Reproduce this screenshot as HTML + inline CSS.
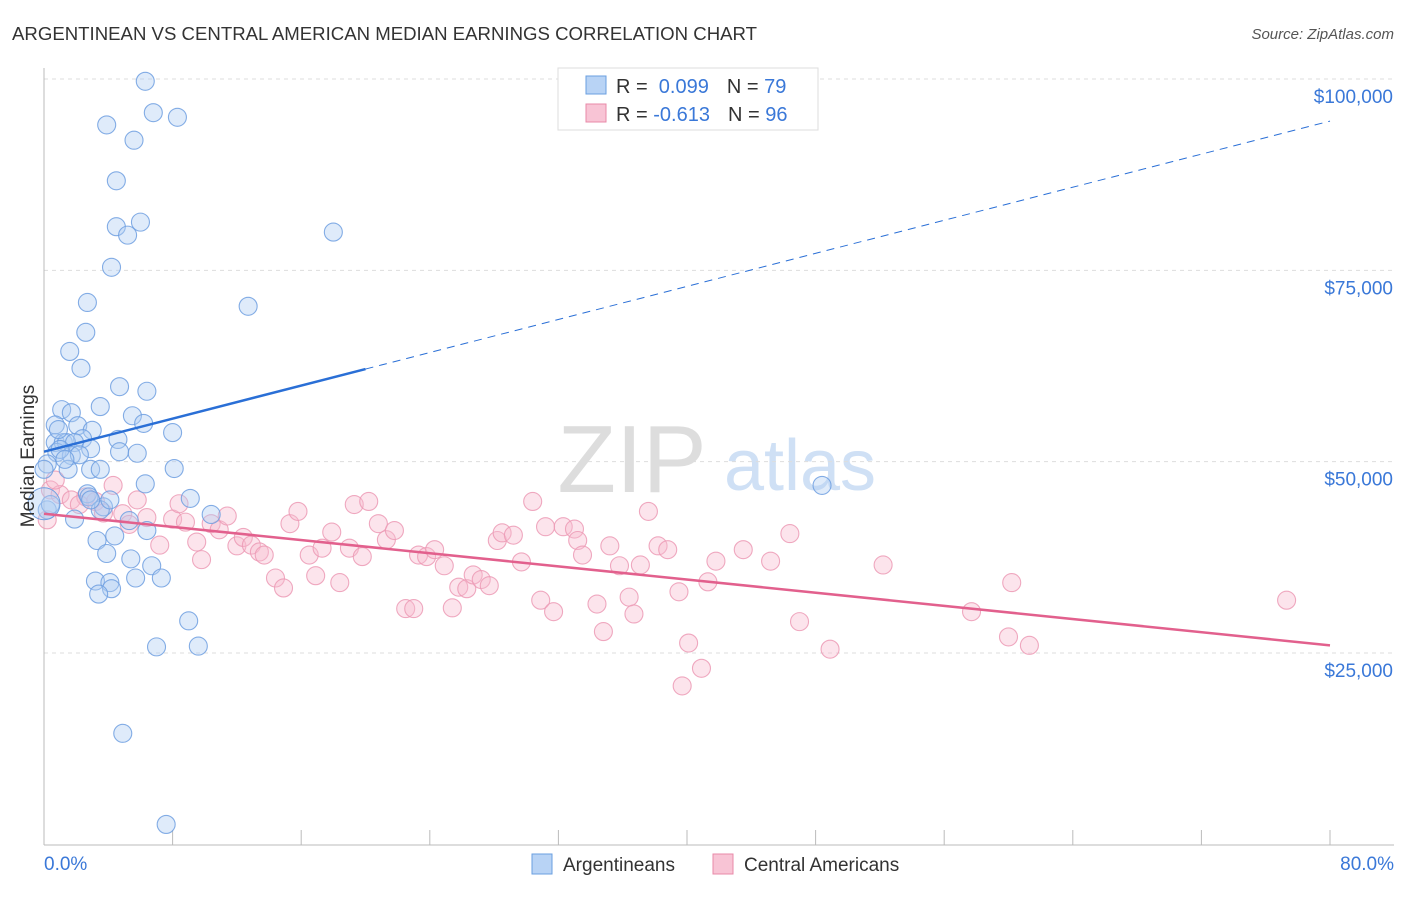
<!DOCTYPE html>
<html><head><meta charset="utf-8"><style>
body{margin:0;background:#fff;font-family:"Liberation Sans",sans-serif;}
svg text{font-family:"Liberation Sans",sans-serif;}
</style></head><body>
<svg id="c" width="1406" height="892" xmlns="http://www.w3.org/2000/svg">
<text x="12" y="40" font-size="18.5" fill="#333" textLength="745" lengthAdjust="spacingAndGlyphs">ARGENTINEAN VS CENTRAL AMERICAN MEDIAN EARNINGS CORRELATION CHART</text>
<text x="1394" y="39" font-size="15" fill="#555" font-style="italic" text-anchor="end">Source: ZipAtlas.com</text>
<g>
<text x="632" y="492" font-size="96" fill="#ddd" font-family="Liberation Serif" text-anchor="middle">ZIP</text>
<text x="800" y="490" font-size="72" fill="#cfe0f5" text-anchor="middle">atlas</text>
</g>
<g id="grid"></g>
<g id="axes"></g>
<g id="pts"></g>
<g id="trend"></g>
<text x="34" y="456" font-size="19" fill="#333" text-anchor="middle" transform="rotate(-90 34 456)">Median Earnings</text>
<g>
<rect x="558" y="68" width="260" height="62" fill="#fff" stroke="#ddd"/>
<rect x="586" y="76" width="20" height="18" fill="#b8d3f5" stroke="#6a9fe0"/>
<rect x="586" y="104" width="20" height="18" fill="#f8c4d5" stroke="#e88aa8"/>
<text x="616" y="93" font-size="20" fill="#333">R = <tspan fill="#3a78d8">&#160;0.099</tspan><tspan dx="18">N = </tspan><tspan fill="#3a78d8">79</tspan></text>
<text x="616" y="121" font-size="20" fill="#333">R = <tspan fill="#3a78d8">-0.613</tspan><tspan dx="18">N = </tspan><tspan fill="#3a78d8">96</tspan></text>
</g>
<g>
<rect x="532" y="854" width="20" height="20" fill="#b8d3f5" stroke="#6a9fe0"/>
<text x="563" y="871" font-size="19" fill="#333">Argentineans</text>
<rect x="713" y="854" width="20" height="20" fill="#f8c4d5" stroke="#e88aa8"/>
<text x="744" y="871" font-size="19" fill="#333">Central Americans</text>
</g>
</svg>
<script>
const yTicks=[25000,50000,75000,100000];
const yTickLabels=["$25,000","$50,000","$75,000","$100,000"];
const xEnds=[0,80];
const xEndLabels=["0.0%","80.0%"];
const blueX=[6.3,6.8,8.3,3.9,5.6,4.5,4.5,6.0,5.2,18.0,4.2,12.7,2.7,2.6,1.6,2.3,4.7,6.4,3.5,1.1,1.7,5.5,0.7,2.1,6.2,8.0,3.0,2.4,4.6,0.7,1.2,1.4,1.9,2.9,4.7,5.8,0.8,1.7,0.2,2.9,8.1,1.5,6.3,2.7,2.8,9.1,3.7,3.5,10.4,5.3,6.4,1.9,4.4,3.3,3.9,5.4,6.7,3.2,4.1,5.7,7.3,4.2,3.4,9.0,7.0,9.6,4.9,7.6,0.2,0.0,48.4,1.0,2.2,0.4,1.3,4.1,2.9,0.9,3.5];
const blueY=[99.7,95.6,95.0,94.0,92.0,86.7,80.7,81.3,79.6,80.0,75.4,70.3,70.8,66.9,64.4,62.2,59.8,59.2,57.2,56.8,56.4,56.0,54.8,54.7,55.0,53.8,54.1,53.0,52.9,52.5,52.5,52.5,52.5,51.7,51.3,51.1,51.2,50.8,49.7,49.0,49.1,49.0,47.1,45.8,45.4,45.2,44.1,43.7,43.1,42.3,41.0,42.5,40.3,39.7,38.0,37.3,36.4,34.4,34.2,34.8,34.8,33.4,32.7,29.2,25.8,25.9,14.5,2.6,43.7,49.0,46.9,51.6,50.9,44.4,50.3,45.0,45.0,54.2,49.0];
const pinkX=[0.4,1.0,1.7,2.6,3.2,4.3,3.7,4.9,5.8,5.3,6.4,7.2,8.0,8.4,8.8,9.5,9.8,10.4,10.9,11.4,12.0,12.4,12.9,13.4,13.7,14.4,14.9,15.3,15.8,16.5,16.9,17.3,17.9,18.4,19.0,19.3,19.8,20.2,20.8,21.3,21.8,22.5,23.0,23.3,23.8,24.3,24.9,25.4,25.8,26.3,26.7,27.2,27.7,28.2,28.5,29.2,29.7,30.4,30.9,31.2,31.7,32.3,33.0,33.2,33.5,34.4,34.8,35.2,35.8,36.4,36.7,37.1,37.6,38.2,38.8,39.5,39.7,40.1,40.9,41.3,41.8,43.5,45.2,46.4,47.0,48.9,52.2,57.7,60.0,60.2,61.3,77.3,0.2,0.7,2.2];
const pinkY=[46.3,45.7,45.0,45.4,44.8,46.9,43.3,43.2,45.0,41.8,42.7,39.1,42.5,44.5,42.1,39.5,37.2,41.9,41.1,42.9,39.0,40.1,39.1,38.2,37.8,34.8,33.5,41.9,43.5,37.8,35.1,38.7,40.8,34.2,38.7,44.4,37.6,44.8,41.9,39.8,41.0,30.8,30.8,37.8,37.6,38.5,36.4,30.9,33.6,33.4,35.2,34.6,33.8,39.7,40.7,40.4,36.9,44.8,31.9,41.5,30.4,41.5,41.2,39.7,37.8,31.4,27.8,39.0,36.4,32.3,30.1,36.5,43.5,39.0,38.5,33.0,20.7,26.3,23.0,34.3,37.0,38.5,37.0,40.6,29.1,25.5,36.5,30.4,27.1,34.2,26.0,31.9,42.4,47.6,44.4];
const blueTrend=[51.3,0.54];
const pinkTrend=[43.2,-0.215];
const blueSolidEnd=20;

const NS="http://www.w3.org/2000/svg";
const X0=44,X1=1330,Y25=653,Y100=79;
const sx=v=>X0+(v-xEnds[0])/(xEnds[1]-xEnds[0])*(X1-X0);
const sy=v=>Y25-(v-25000)/75000*(Y25-Y100);
function mk(tag,attrs,parent){const e=document.createElementNS(NS,tag);for(const k in attrs)e.setAttribute(k,attrs[k]);parent.appendChild(e);return e;}
const grid=document.getElementById('grid'),axes=document.getElementById('axes'),pts=document.getElementById('pts'),tr=document.getElementById('trend');
yTicks.forEach((t,i)=>{
  const l=mk('line',{x1:X0,x2:1394,y1:sy(t),y2:sy(t),stroke:'#ddd','stroke-dasharray':'4,4'},grid);
  
  
  const tx=mk('text',{x:1393,y:sy(t)+24,'font-size':19,fill:'#3a78d8','text-anchor':'end'},axes);
  tx.textContent=yTickLabels[i];
  
  
});
const ya=mk('line',{x1:X0,x2:X0,y1:68,y2:845,stroke:'#bbb'},axes);


const xa=mk('line',{x1:X0,x2:1394,y1:845,y2:845,stroke:'#bbb'},axes);


for(let v=0;v<=80;v+=8){
  const t=mk('line',{x1:sx(v),x2:sx(v),y1:830,y2:845,stroke:'#bbb'},axes);
  
  
}
xEnds.forEach((v,i)=>{
  const tx=mk('text',{x:i==0?44:1394,y:870,'font-size':19,fill:'#3a78d8','text-anchor':i==0?'start':'end'},axes);
  tx.textContent=xEndLabels[i];
  
  
});
function dots(xs,ys,fill,stroke,name){
  xs.forEach((x,i)=>{
    const c=mk('circle',{cx:sx(x),cy:sy(ys[i]*1000),r:9,fill:fill,'fill-opacity':0.4,stroke:stroke,'stroke-width':1.1,'stroke-opacity':0.85},pts);
    
    
  });
}
dots(pinkX,pinkY,'#f7bccf','#ec9ab5','central-american-point');
dots(blueX,blueY,'#b0cdf2','#6f9fe0','argentinean-point');
const bb=mk('circle',{cx:sx(0),cy:sy(44500),r:16,fill:'#b0cdf2','fill-opacity':0.4,stroke:'#6f9fe0'},pts);


const bf=v=>(blueTrend[0]+blueTrend[1]*v)*1000, pf=v=>(pinkTrend[0]+pinkTrend[1]*v)*1000;
const b1=mk('line',{x1:sx(0),y1:sy(bf(0)),x2:sx(blueSolidEnd),y2:sy(bf(blueSolidEnd)),stroke:'#2a6fd6','stroke-width':2.5},tr);


const b2=mk('line',{x1:sx(blueSolidEnd),y1:sy(bf(blueSolidEnd)),x2:sx(80),y2:sy(bf(80)),stroke:'#2a6fd6','stroke-width':1,'stroke-dasharray':'8,6'},tr);


const p1=mk('line',{x1:sx(0),y1:sy(pf(0)),x2:sx(80),y2:sy(pf(80)),stroke:'#e2608d','stroke-width':2.5},tr);


</script>
</body></html>
